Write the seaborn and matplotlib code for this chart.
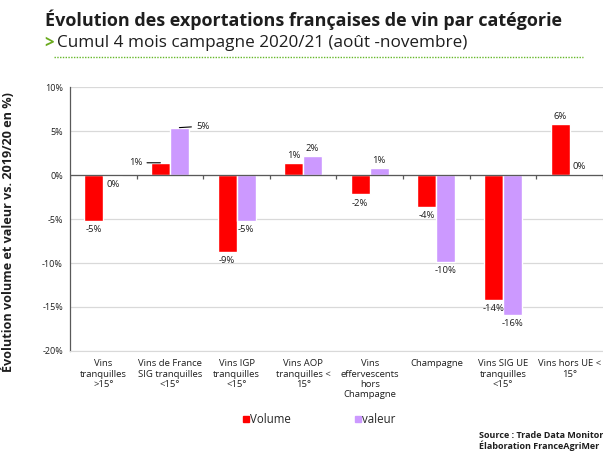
import matplotlib
matplotlib.use('Agg')
import matplotlib.pyplot as plt
import seaborn as sns
import pandas as pd
import numpy as np
from matplotlib.lines import Line2D

categories = ['Vins\ntranquilles\n>15°', 'Vins de France\nSIG tranquilles\n<15°', 'Vins IGP\ntranquilles\n<15°',
              'Vins AOP\ntranquilles <\n15°', 'Vins\neffervescents\nhors\nChampagne', 'Champagne',
              'Vins SIG UE\ntranquilles\n<15°', 'Vins hors UE <\n15°']
volume = [-5.2, 1.4, -8.7, 1.4, -2.2, -3.6, -14.2, 5.8]
valeur = [-0.05, 5.4, -5.2, 2.2, 0.8, -9.9, -15.9, 0.1]
series = ['Volume', 'valeur']
yticks = [-20, -15, -10, -5, 0, 5, 10]

df = pd.DataFrame({
    'cat': categories * 2,
    'serie': [series[0]] * len(categories) + [series[1]] * len(categories),
    'val': volume + valeur,
})

sns.set_style('white')
plt.rcParams['font.family'] = ['Open Sans', 'DejaVu Sans']
txt = '#1e1e1e'

fig = plt.figure(figsize=(6.03, 4.54), dpi=100)
ax = fig.add_axes([0.116, 0.227, 0.884, 0.581])

sns.barplot(data=df, x='cat', y='val', hue='serie', palette=['#ff0000', '#cc99ff'],
            width=0.57, gap=0, saturation=1, legend=False, ax=ax)

ax.set_ylim(-20, 10)
ax.set_xlim(-0.5, len(categories) - 0.5)
ax.set_yticks(yticks)
ax.set_yticklabels([f'{t}%' for t in yticks], fontsize=6.5, color=txt)
ax.tick_params(axis='y', length=2.5, width=0.8, color='#595959', pad=2.5)
ax.tick_params(axis='x', length=0, pad=6, labelsize=6.8, labelcolor=txt)
for lbl in ax.get_xticklabels():
    lbl.set_linespacing(1.2)
ax.set_xlabel('')
ax.set_ylabel('Évolution volume et valeur vs. 2019/20 en %)', fontsize=9.1, fontweight='bold',
              color=txt)
ax.yaxis.set_label_coords(-0.104, 0.45)
ax.yaxis.grid(True, color='#d9d9d9', lw=0.9)
ax.set_axisbelow(True)
for s in ['top', 'right']:
    ax.spines[s].set_visible(False)
ax.spines['bottom'].set_color('#d9d9d9')
ax.spines['left'].set_color('#595959')
ax.spines['left'].set_linewidth(0.9)

# axe zero avec petites graduations entre categories
ax.axhline(0, color='#595959', lw=0.9, zorder=3)
bounds = np.arange(len(categories) + 1) - 0.5
ax.vlines(bounds, -0.45, 0, color='#595959', lw=0.9, zorder=3)

# etiquettes de donnees
for ci, cont in enumerate(ax.containers):
    for i, bar in enumerate(cont):
        v = bar.get_height()
        xc = bar.get_x() + bar.get_width() / 2
        lab = f'{int(round(v))}%'
        if ci == 0 and i == 1:
            ax.annotate(lab, (xc, v), xytext=(-13, 0), textcoords='offset points', ha='right',
                        va='center', fontsize=6.8, color=txt,
                        arrowprops=dict(arrowstyle='-', color='black', lw=0.8, shrinkA=1, shrinkB=0))
        elif ci == 1 and i == 1:
            ax.annotate(lab, (xc, v), xytext=(12, 1), textcoords='offset points', ha='left',
                        va='center', fontsize=6.8, color=txt,
                        arrowprops=dict(arrowstyle='-', color='black', lw=0.8, shrinkA=1, shrinkB=0))
        elif v >= 0:
            ax.annotate(lab, (xc, v), xytext=(0, 2), textcoords='offset points', ha='center',
                        va='bottom', fontsize=6.8, color=txt)
        else:
            ax.annotate(lab, (xc, v), xytext=(0, -3), textcoords='offset points', ha='center',
                        va='top', fontsize=6.8, color=txt)

# legende
handles = [Line2D([], [], marker='s', ls='', color=c, markersize=4)
           for c in ['#ff0000', '#cc99ff']]
fig.legend(handles, series, loc='center', bbox_to_anchor=(0.529, 0.077), ncol=2, frameon=False,
           fontsize=8.3, columnspacing=5.5, handletextpad=0.05, handlelength=0.6)

# titre
fig.text(0.075, 0.957, 'Évolution des exportations françaises de vin par catégorie', fontsize=13,
         fontweight='bold', color=txt, va='center')
fig.text(0.073, 0.905, '>', fontsize=12, fontweight='bold', color='#6aaa1e', va='center')
fig.text(0.095, 0.905, 'Cumul 4 mois campagne 2020/21 (août -novembre)', fontsize=12.3,
         color=txt, va='center')
fig.add_artist(Line2D([0.09, 0.967], [0.874, 0.874], color='#66b82a', lw=1.0, ls=(0, (1, 1))))

# source (coupee a droite comme sur l'original)
fig.text(0.794, 0.029, 'Source : Trade Data Monitor\nÉlaboration FranceAgriMer', fontsize=6.5,
         fontweight='bold', color=txt, va='center', linespacing=1.05)

fig.savefig('out.png', dpi=100)
